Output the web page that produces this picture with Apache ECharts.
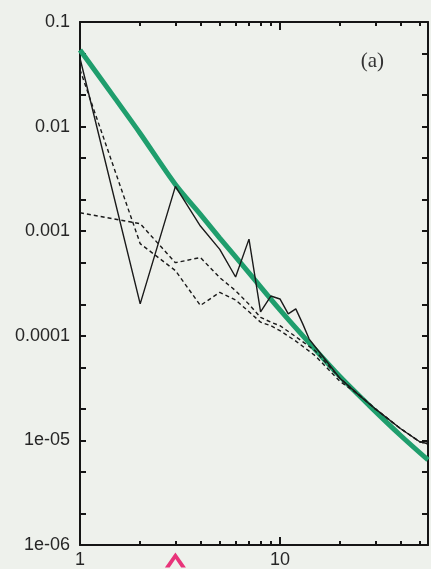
<!DOCTYPE html>
<html><head><meta charset="utf-8">
<script src="https://cdn.jsdelivr.net/npm/echarts@6/dist/echarts.min.js"></script>
<style>html,body{margin:0;padding:0;background:#eef1ec;} #c{width:431px;height:569px;}</style>
</head><body><div id="c"></div>
<script>
// ---- tick positions and labels ----
const yTickValues = [1e-6, 2e-6, 5e-6, 1e-5, 2e-5, 5e-5, 1e-4, 2e-4, 5e-4, 1e-3, 2e-3, 5e-3, 1e-2, 2e-2, 5e-2, 1e-1];
const xTickLabels = ['1', '10'];
const yTickLabels = ['1e-06', '1e-05', '0.0001', '0.001', '0.01', '0.1'];

// ---- series data ----
const greenX = [1, 1.5, 2, 3, 4, 5, 7, 10, 14, 20, 28, 40, 55];
const greenY = [0.054, 0.0185, 0.0086, 0.0028, 0.00145, 0.00086, 0.0004, 0.000177, 0.0000857, 0.0000407, 0.0000215, 0.0000112, 0.0000065];

const solidX = [1, 2, 3, 4, 5, 6, 7, 8, 9, 10, 11, 12, 13, 14, 15, 17, 20, 25, 30, 40, 50, 55];
const solidY = [0.045, 0.000202, 0.00268, 0.00112, 0.00067, 0.000365, 0.00084, 0.000169, 0.00024, 0.000225, 0.000162, 0.000181, 0.00013, 0.000093, 0.0000785, 0.000058, 0.000039, 0.0000268, 0.00002, 0.000013, 0.0000097, 0.0000093];

const dashAX = [1, 2, 3, 4, 5, 6, 7, 8, 9, 10, 12, 15, 20, 25, 30, 40, 50, 55];
const dashAY = [0.035, 0.00076, 0.00042, 0.000195, 0.00026, 0.00022, 0.00017, 0.000135, 0.000125, 0.000112, 0.000089, 0.0000645, 0.0000365, 0.000027, 0.00002, 0.000013, 0.0000097, 0.0000093];

const dashBX = [1, 2, 3, 4, 5, 6, 7, 8, 9, 10, 12, 15, 20, 25, 30, 40, 50, 55];
const dashBY = [0.0015, 0.00118, 0.0005, 0.00056, 0.00036, 0.00027, 0.0002, 0.00015, 0.000135, 0.000125, 0.000098, 0.000072, 0.000039, 0.000027, 0.00002, 0.000013, 0.0000097, 0.0000093];

const arrowX = 3;
const panelLabel = '(a)';

function zip(xs, ys) { return xs.map((x, i) => [x, ys[i]]); }

const X_MIN = 1, X_MAX = 55, Y_MIN = 1e-6, Y_MAX = 0.1;
const axisColor = '#151515';
const labelFont = {fontFamily: 'Liberation Sans, Arial, sans-serif', fontSize: 18, color: '#262626'};

function xAx(pos, showLabel) {
  return {
    type: 'log', min: X_MIN, max: X_MAX, position: pos,
    axisLine: {show: true, onZero: false, lineStyle: {color: axisColor, width: 2}},
    axisTick: {show: true, inside: true, length: 8, lineStyle: {color: axisColor, width: 2}},
    minorTick: {show: true, splitNumber: 9, length: 4, lineStyle: {color: axisColor, width: 2}},
    axisLabel: Object.assign({show: showLabel, margin: 6, showMaxLabel: false,
      formatter: v => { const k = Math.round(Math.log10(v)); return Math.abs(Math.log10(v) - k) < 1e-6 ? (xTickLabels[k] || '') : ''; }}, labelFont),
    splitLine: {show: false}
  };
}
function yAx(pos, showLabel) {
  return {
    type: 'log', min: Y_MIN, max: Y_MAX, position: pos,
    axisLine: {show: true, onZero: false, lineStyle: {color: axisColor, width: 2}},
    axisTick: {show: true, inside: true, length: 6, customValues: yTickValues, lineStyle: {color: axisColor, width: 2}},
    axisLabel: Object.assign({show: showLabel, margin: 10,
      formatter: v => yTickLabels[Math.round(Math.log10(v)) + 6]}, labelFont),
    splitLine: {show: false}, minorTick: {show: false}
  };
}

const chart = echarts.init(document.getElementById('c'));
const blackLine = (name, xs, ys, type) => ({
  name, type: 'line', data: zip(xs, ys), showSymbol: false, symbol: 'none',
  lineStyle: {color: '#1a1a1a', width: 1.4, type: type}
});

chart.setOption({
  backgroundColor: '#eef1ec',
  title: {text: panelLabel, right: 42, top: 46,
    textStyle: {fontFamily: 'Liberation Serif, DejaVu Serif, serif', fontSize: 21, fontWeight: 'normal', color: '#333'}},
  grid: {left: 80, right: 3, top: 22, bottom: 22},
  xAxis: [xAx('bottom', true), xAx('top', false)],
  yAxis: [yAx('left', true), yAx('right', false)],
  series: [
    {name: 'fit', type: 'line', data: zip(greenX, greenY), showSymbol: false, symbol: 'none', smooth: 0.3,
     lineStyle: {color: '#1f9e6d', width: 5},
     markPoint: {
       silent: true, animation: false, label: {show: false},
       symbol: 'path://M0,14 L10,0 L20,14 L15.5,14 L10,6 L4.5,14 Z',
       symbolSize: [21, 15], symbolOffset: [0, 15], symbolKeepAspect: false,
       itemStyle: {color: '#e8347a'},
       data: [{coord: [arrowX, Y_MIN]}]
     }},
    blackLine('solid', solidX, solidY, 'solid'),
    blackLine('dashA', dashAX, dashAY, [4, 3]),
    blackLine('dashB', dashBX, dashBY, [4, 3])
  ]
});
</script>
</body></html>
